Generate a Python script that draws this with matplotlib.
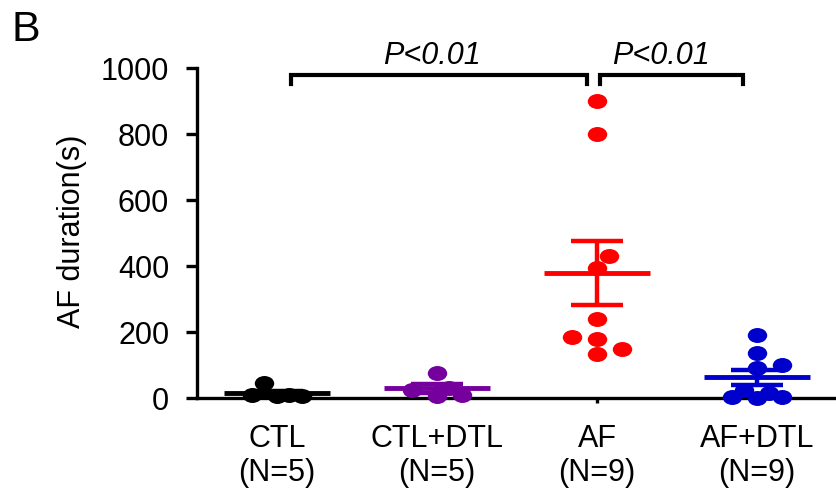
import matplotlib.pyplot as plt
import numpy as np
from matplotlib.path import Path

plt.rcParams['font.family'] = ['Liberation Sans', 'DejaVu Sans']

# data
groups = ['CTL\n(N=5)', 'CTL+DTL\n(N=5)', 'AF\n(N=9)', 'AF+DTL\n(N=9)']
ctl = [45, 10, 8, 7, 5]
ctl_dtl = [75, 30, 25, 10, 5]
af = [900, 800, 430, 393, 239, 185, 179, 148, 133]
af_dtl = [191, 136, 100, 91, 24, 15, 4, 2, 1]
colors = ['#000000', '#75009E', '#FF0000', '#0000CC']
yticks = [0, 200, 400, 600, 800, 1000]
p_text = 'P<0.01'

series = [ctl, ctl_dtl, af, af_dtl]

# slightly wide dot, like in the original
circ = Path.unit_circle()
dot = Path(circ.vertices * [1.3, 1.0], circ.codes)


def swarm(vals, x0, ax, w=17, h=14, step=12.5):
    # spread the dots sideways (pixel units) so they don't sit on each other
    px_per_x = ax.transData.transform((1, 0))[0] - ax.transData.transform((0, 0))[0]
    ys = [ax.transData.transform((0, v))[1] for v in vals]
    cands = [0, step, -step, 2 * step, -2 * step]
    placed = []
    offs = np.zeros(len(vals))
    for i in np.argsort(vals):
        best, best_d = 0, -1
        for c in cands:
            d = min([((c - pc) / w) ** 2 + ((ys[i] - py) / h) ** 2 for pc, py in placed], default=99)
            if d >= 1:
                best = c
                break
            if d > best_d:
                best, best_d = c, d
        placed.append((best, ys[i]))
        offs[i] = best
    return x0 + offs / px_per_x


fig = plt.figure(figsize=(8.37, 4.9), dpi=100)
ax = fig.add_axes([197 / 837, 92 / 490, 640 / 837, 330 / 490])
ax.set_xlim(0.5, 4.5)
ax.set_ylim(0, 1000)

for i, (vals, col) in enumerate(zip(series, colors)):
    pos = i + 1
    xs = swarm(vals, pos, ax)
    ax.plot(xs, vals, linestyle='none', marker=dot, markersize=14,
            color=col, markeredgewidth=0, zorder=3, clip_on=False)
    m = np.mean(vals)
    sem = np.std(vals, ddof=1) / np.sqrt(len(vals))
    ax.plot([pos - 0.33, pos + 0.33], [m, m], color=col, lw=3.5, zorder=4,
            solid_capstyle='butt')
    ax.errorbar(pos, m, yerr=sem, color=col, elinewidth=3.2, capsize=19,
                capthick=3.2, zorder=4)

# significance brackets
for x1, x2, xt in [(1.09, 2.94, 1.97), (3.02, 3.91, 3.40)]:
    ax.plot([x1, x1, x2, x2], [950, 978, 978, 950], color='black', lw=3,
            clip_on=False, solid_joinstyle='miter')
    ax.text(xt, 1012, p_text, ha='center', va='baseline', fontsize=22,
            style='italic', clip_on=False)

ax.spines['top'].set_visible(False)
ax.spines['right'].set_visible(False)
ax.spines['left'].set_linewidth(2.4)
ax.spines['bottom'].set_linewidth(2.4)
ax.spines['left'].set_zorder(2)
ax.spines['bottom'].set_zorder(2)

ax.set_yticks(yticks)
ax.set_xticks([1, 2, 3, 4], groups)
ax.tick_params(axis='y', length=8, width=2.4, labelsize=22, pad=12)
ax.tick_params(axis='x', length=3.6, width=2.4, labelsize=22, pad=15)

fig.text(72 / 837, 1 - 231 / 490, 'AF duration(s)', rotation=90,
         ha='center', va='center', fontsize=22)
fig.text(12 / 837, 1 - 10 / 490, 'B', ha='left', va='top', fontsize=31)

plt.savefig('out.png', dpi=100)
